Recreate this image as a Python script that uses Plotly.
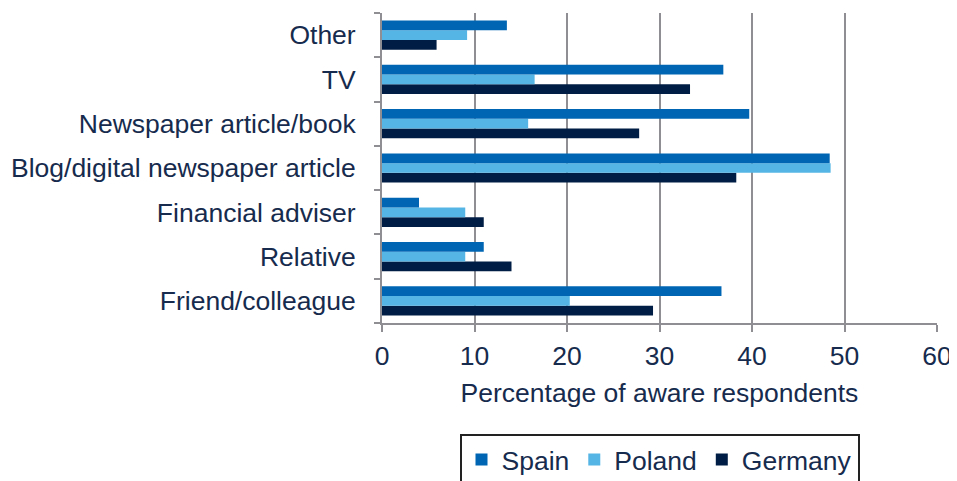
import plotly.graph_objects as go

categories = ["Friend/colleague", "Relative", "Financial adviser",
              "Blog/digital newspaper article", "Newspaper article/book", "TV", "Other"]
spain = [36.7, 11.0, 4.0, 48.4, 39.7, 36.9, 13.5]
poland = [20.3, 9.0, 9.0, 48.5, 15.8, 16.5, 9.2]
germany = [29.3, 14.0, 11.0, 38.3, 27.8, 33.3, 5.9]

text_color = "#162B4D"
grid_color = "#8E8E93"
font = dict(family="Liberation Sans, Arial, sans-serif", size=26.5, color=text_color)

fig = go.Figure()
for name, vals, col in [("Germany", germany, "#001E45"),
                        ("Poland", poland, "#55B6E6"),
                        ("Spain", spain, "#0066B3")]:
    fig.add_trace(go.Bar(y=categories, x=vals, name=name, orientation="h",
                         marker=dict(color=col, line=dict(width=0))))

# page body has an 8px margin, so the figure is 8px smaller than the window
fig.update_layout(
    width=949, height=473,
    margin=dict(l=374, r=20, t=5, b=158),
    paper_bgcolor="white", plot_bgcolor="white",
    font=font,
    barmode="group", bargap=0.34, bargroupgap=0,
    legend=dict(orientation="h", traceorder="reversed",
                x=0.5, xanchor="center", yref="container", y=0.1, yanchor="top",
                bordercolor="#222222", borderwidth=2, font=font,
                itemwidth=30),
    xaxis=dict(range=[0, 60], dtick=10, showgrid=True, gridcolor=grid_color, gridwidth=2,
               showline=True, linecolor=grid_color, linewidth=2,
               ticks="outside", ticklen=7, tickcolor=grid_color, tickwidth=2,
               zeroline=False, tickfont=font, automargin=False, ticklabelstandoff=1,
               title=dict(text="Percentage of aware respondents", font=font, standoff=14)),
    yaxis=dict(showline=True, linecolor=grid_color, linewidth=2,
               ticks="outside", ticklen=6, tickcolor=grid_color, tickwidth=2,
               tickson="boundaries", tickfont=font, showgrid=False, ticklabelstandoff=19,
               automargin=False),
)

fig.write_html("out.html")
